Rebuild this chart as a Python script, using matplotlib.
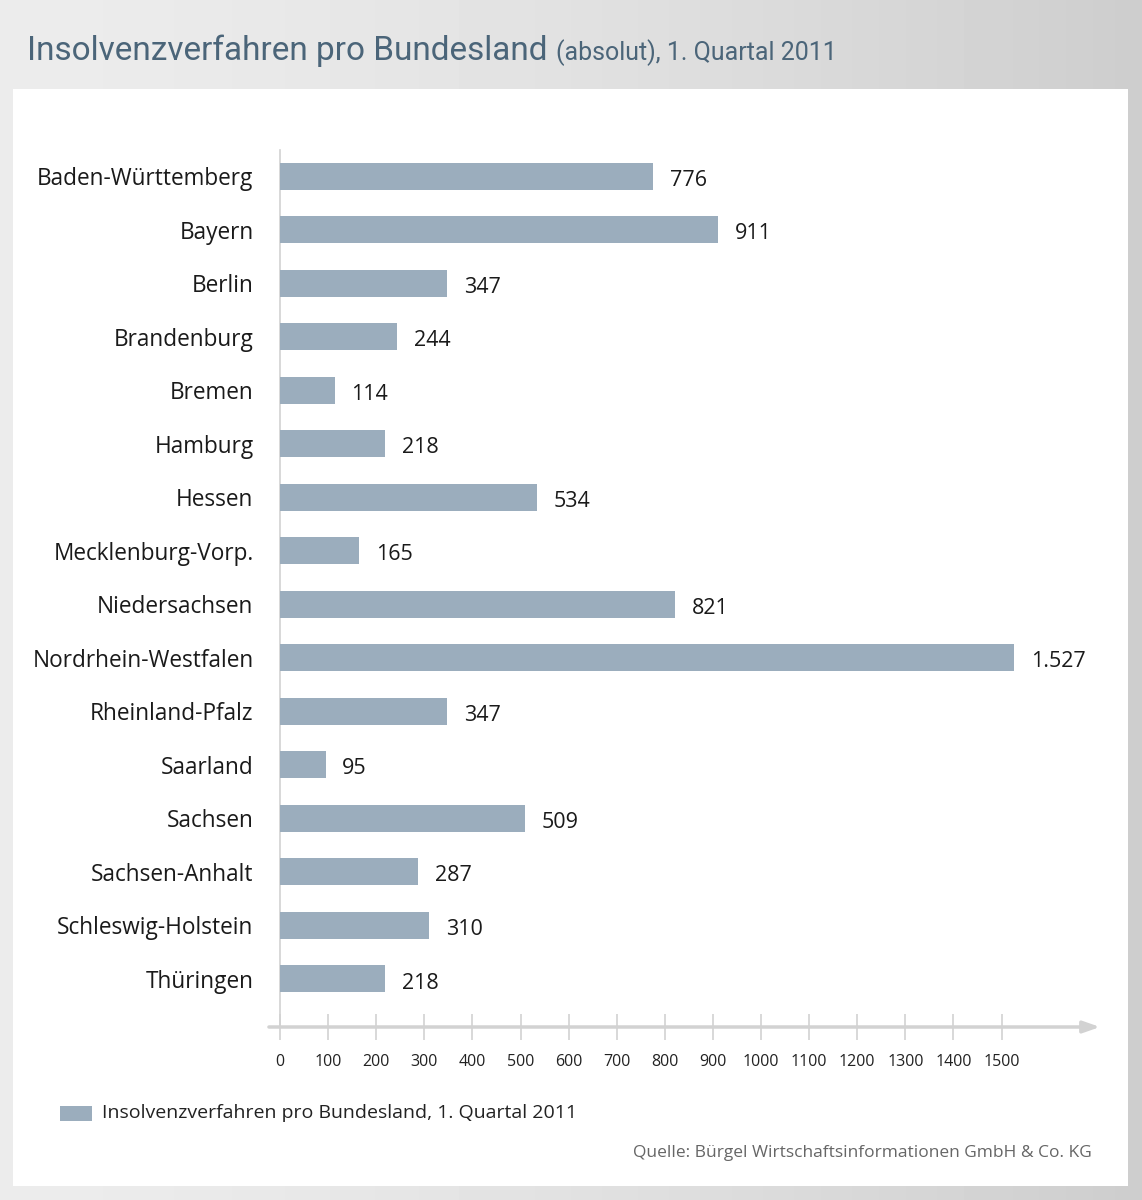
import numpy as np
import matplotlib
matplotlib.use("Agg")
import matplotlib.pyplot as plt
from matplotlib.patches import Rectangle

laender = ["Baden-Württemberg", "Bayern", "Berlin", "Brandenburg", "Bremen",
           "Hamburg", "Hessen", "Mecklenburg-Vorp.", "Niedersachsen",
           "Nordrhein-Westfalen", "Rheinland-Pfalz", "Saarland", "Sachsen",
           "Sachsen-Anhalt", "Schleswig-Holstein", "Thüringen"]
verfahren = [776, 911, 347, 244, 114, 218, 534, 165, 821, 1527, 347, 95, 509,
             287, 310, 218]
wert_labels = ["776", "911", "347", "244", "114", "218", "534", "165", "821",
               "1.527", "347", "95", "509", "287", "310", "218"]
ticks = list(range(0, 1600, 100))

W, H = 1142, 1200
plt.rcParams['font.family'] = ['Open Sans', 'DejaVu Sans']

fig = plt.figure(figsize=(W / 100, H / 100), dpi=100)

# grauer Verlauf im Hintergrund
bg = fig.add_axes([0, 0, 1, 1])
grad = np.linspace(0, 1, 256)
img = 0.925 - 0.12 * grad ** 1.5
bg.imshow(np.tile(img, (2, 1)), cmap="gray", vmin=0, vmax=1, aspect="auto",
          extent=[0, 1, 0, 1])
bg.add_patch(Rectangle((13 / W, 1 - 1186 / H), (1128 - 13) / W, (1186 - 89) / H,
                       facecolor="white", edgecolor="none"))
bg.set_xlim(0, 1)
bg.set_ylim(0, 1)
bg.axis("off")

# Hauptachse
x0, x1 = 280, 1100
ax = fig.add_axes([x0 / W, 1 - 1027 / H, (x1 - x0) / W, (1027 - 150) / H])
ax.set_facecolor("none")
xmax = (x1 - x0) / 0.481
ax.set_xlim(0, xmax)
ax.set_ylim(15.9, -0.49)

y = np.arange(len(laender))
ax.barh(y, verfahren, height=0.5, color="#9badbd", zorder=3)
for yi, v, lab in zip(y, verfahren, wert_labels):
    ax.annotate(lab, (v, yi), xytext=(12, -3), textcoords="offset points",
                ha="left", va="center", fontsize=15.5, color="#1a1a1a")

ax.set_yticks(y)
ax.set_yticklabels(laender, fontsize=16.3, color="#1a1a1a")
ax.tick_params(axis="y", length=0, pad=19)

ax.set_xticks(ticks)
ax.set_xticklabels([str(t) for t in ticks], fontsize=11.5, color="#222222")
ax.tick_params(axis="x", direction="inout", length=19, width=1.2,
               color="#d2d2d2", pad=10)

for s in ["top", "right", "bottom"]:
    ax.spines[s].set_visible(False)
ax.spines["left"].set_color("#d2d2d2")
ax.spines["left"].set_linewidth(1.2)

# x-Achse mit Pfeil
ax.annotate("", xy=(xmax, 15.9), xytext=(-23, 15.9),
            arrowprops=dict(arrowstyle="-|>,head_length=1.0,head_width=0.35",
                            color="#d2d2d2", lw=2.5, shrinkA=0, shrinkB=0),
            annotation_clip=False)

# Titel
title_col = "#4b6579"
t1 = fig.text(27 / W, 1 - 60 / H, "Insolvenzverfahren pro Bundesland",
              fontsize=24, color=title_col, ha="left", va="baseline",
              family=["Roboto", "DejaVu Sans"])
fig.canvas.draw()
bb = t1.get_window_extent()
fig.text((bb.x1 + 8) / W, 1 - 60 / H, "(absolut), 1. Quartal 2011",
         fontsize=18, color=title_col, ha="left", va="baseline",
         family=["Roboto", "DejaVu Sans"])

# Legende
bg.add_patch(Rectangle((60 / W, 1 - 1121 / H), 32 / W, 15 / H,
                       facecolor="#9badbd", edgecolor="none"))
fig.text(102 / W, 1 - 1113 / H, "Insolvenzverfahren pro Bundesland, 1. Quartal 2011",
         fontsize=14, color="#222222", ha="left", va="center")

# Quelle
fig.text(1092 / W, 1 - 1153 / H, "Quelle: Bürgel Wirtschaftsinformationen GmbH & Co. KG",
         fontsize=12.5, color="#666666", ha="right", va="center")

fig.savefig("out.png", dpi=100)
